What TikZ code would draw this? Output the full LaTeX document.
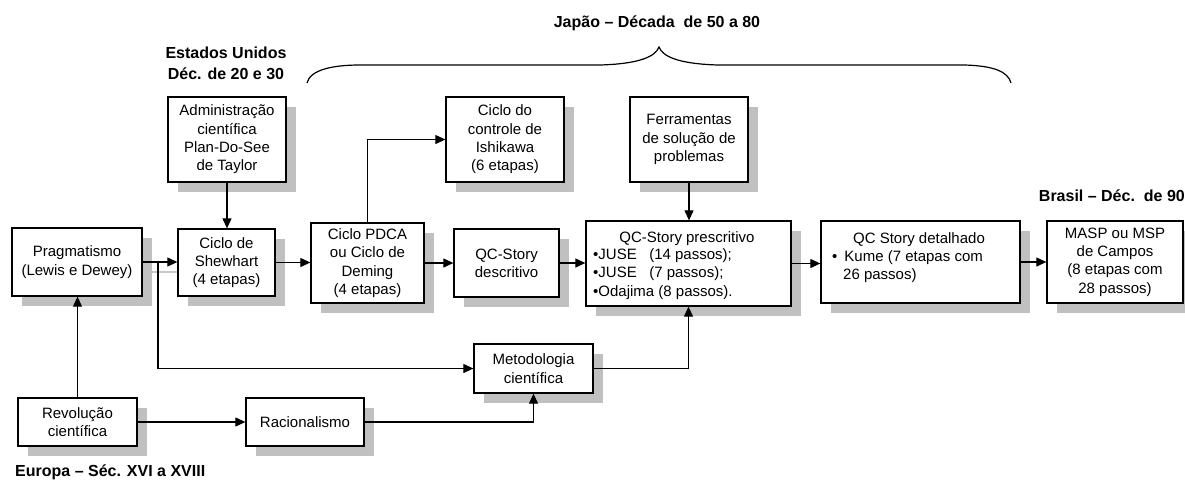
\documentclass[tikz,border=0pt]{standalone}
\usepackage{fontspec}
\setmainfont{Liberation Sans}
\usetikzlibrary{shadows,arrows.meta}
\definecolor{shadowgray}{HTML}{C0C0C0}
\definecolor{ghostgray}{HTML}{C8C8C8}
\tikzset{
  box/.style={draw=black, line width=1.3pt, fill=white, inner sep=0pt,
    align=center, font=\fontsize{15}{18.3}\selectfont,
    drop shadow={shadow xshift=10pt, shadow yshift=-10pt, fill=shadowgray, opacity=1, draw=none}},
  txt/.style={inner sep=0pt, font=\fontsize{15}{18.3}\selectfont},
  lbl/.style={inner sep=0pt, align=center, font=\fontsize{16}{21}\selectfont\bfseries},
  conn/.style={line width=1.1pt, -{Triangle[length=10pt,width=9pt]}},
  plain/.style={line width=1.1pt},
  brace/.style={line width=1.2pt}
}
\begin{document}
\begin{tikzpicture}[x=1pt,y=-1pt]
\useasboundingbox (0,0) rectangle (1185,482);
% ghost arrow (shadow of connector)
\coordinate (g1) at (150,272);
\coordinate (g2) at (187,272);
\draw[line width=1.1pt, ghostgray, -{Triangle[length=10pt,width=9pt]}] (g1) -- (g2);

% labels
\node[lbl] (usa) at (226,63) {Estados Unidos\\Déc. de 20 e 30};
\node[lbl] (jap) at (657,23) {Japão -- Década\ \ de 50 a 80};
\node[lbl, anchor=east] (bra) at (1185,196) {Brasil -- Déc.\ \ de 90};
\node[lbl, anchor=west] (eur) at (15,472) {Europa -- Séc. XVI a XVIII};

% brace
\coordinate (bl) at (307,83);
\coordinate (bt) at (659,47);
\coordinate (br) at (1011,83);
\draw[brace] (bl) .. controls (310,70) and (332,65) .. (360,65) -- (600,65)
  .. controls (635,64) and (655,58) .. (bt)
  .. controls (663,58) and (683,64) .. (718,65) -- (965,65)
  .. controls (995,66) and (1008,72) .. (br);

% boxes
\node[box, minimum width=118pt, minimum height=85pt] (admin) at (227,139.5)
  {Administração\\científica\\Plan-Do-See\\de Taylor};
\node[box, minimum width=130pt, minimum height=68pt] (prag) at (77,262)
  {Pragmatismo\\(Lewis e Dewey)};
\node[box, minimum width=97pt, minimum height=67pt] (shew) at (226.5,262.5)
  {Ciclo de\\Shewhart\\(4 etapas)};
\node[box, minimum width=113pt, minimum height=80pt] (pdca) at (367.5,263)
  {Ciclo PDCA\\ou Ciclo de\\Deming\\(4 etapas)};
\node[box, minimum width=118pt, minimum height=85pt] (ishi) at (505,139.5)
  {Ciclo do\\controle de\\Ishikawa\\(6 etapas)};
\node[box, minimum width=118pt, minimum height=85pt] (ferr) at (689,139.5)
  {Ferramentas\\de solução de\\problemas};
\node[box, minimum width=105pt, minimum height=68pt] (qcd) at (506.5,263)
  {QC-Story\\descritivo};
\node[box, minimum width=205pt, minimum height=85pt] (qcp) at (688.5,263.5) {};
\node[box, minimum width=199pt, minimum height=82pt] (det) at (920.5,262) {};
\node[box, minimum width=136pt, minimum height=82pt] (masp) at (1115,262)
  {MASP ou MSP\\de Campos\\(8 etapas com\\28 passos)};
\node[box, minimum width=119pt, minimum height=49pt] (meto) at (533.5,368.5)
  {Metodologia\\científica};
\node[box, minimum width=119pt, minimum height=48pt] (rev) at (77.5,422)
  {Revolução\\científica};
\node[box, minimum width=118pt, minimum height=48pt] (rac) at (305,422)
  {Racionalismo};

% texts inside the two list boxes
\node[txt, anchor=base] (qcp1) at (687,242) {QC-Story prescritivo};
\node[txt, anchor=base west] (qcp2) at (593,259.5) {•JUSE\ \ \ (14 passos);};
\node[txt, anchor=base west] (qcp3) at (593,277.5) {•JUSE\ \ \ (7 passos);};
\node[txt, anchor=base west] (qcp4) at (593,296) {•Odajima (8 passos).};
\node[txt, anchor=base] (det1) at (919,243) {QC Story detalhado};
\node[txt, anchor=base west] (det2) at (832,261) {•\hspace{7pt}Kume (7 etapas com};
\node[txt, anchor=base west] (det3) at (843,279) {26 passos)};

% connectors
\draw[conn] (admin.south) -- (admin.south |- shew.north);
\draw[conn] (prag.east) -- (prag.east -| shew.west);
\coordinate (brn) at (158,262);
\draw[conn] (brn) |- (meto.west);
\draw[conn] (shew.east) -- (shew.east -| pdca.west);
\draw[conn] (pdca.north) |- (ishi.west);
\draw[conn] (pdca.east) -- (pdca.east -| qcd.west);
\draw[conn] (qcd.east) -- (qcd.east -| qcp.west);
\draw[conn] (ferr.south) -- (ferr.south |- qcp.north);
\draw[conn] (qcp.east) -- (qcp.east -| det.west);
\draw[conn] (det.east) -- (det.east -| masp.west);
\draw[conn] (rev.north) -- (rev.north |- prag.south);
\draw[conn] (rev.east) -- (rac.west);
\draw[conn] (rac.east) -| (meto.south);
\draw[conn] (meto.east) -| (qcp.south);
\end{tikzpicture}
\end{document}
